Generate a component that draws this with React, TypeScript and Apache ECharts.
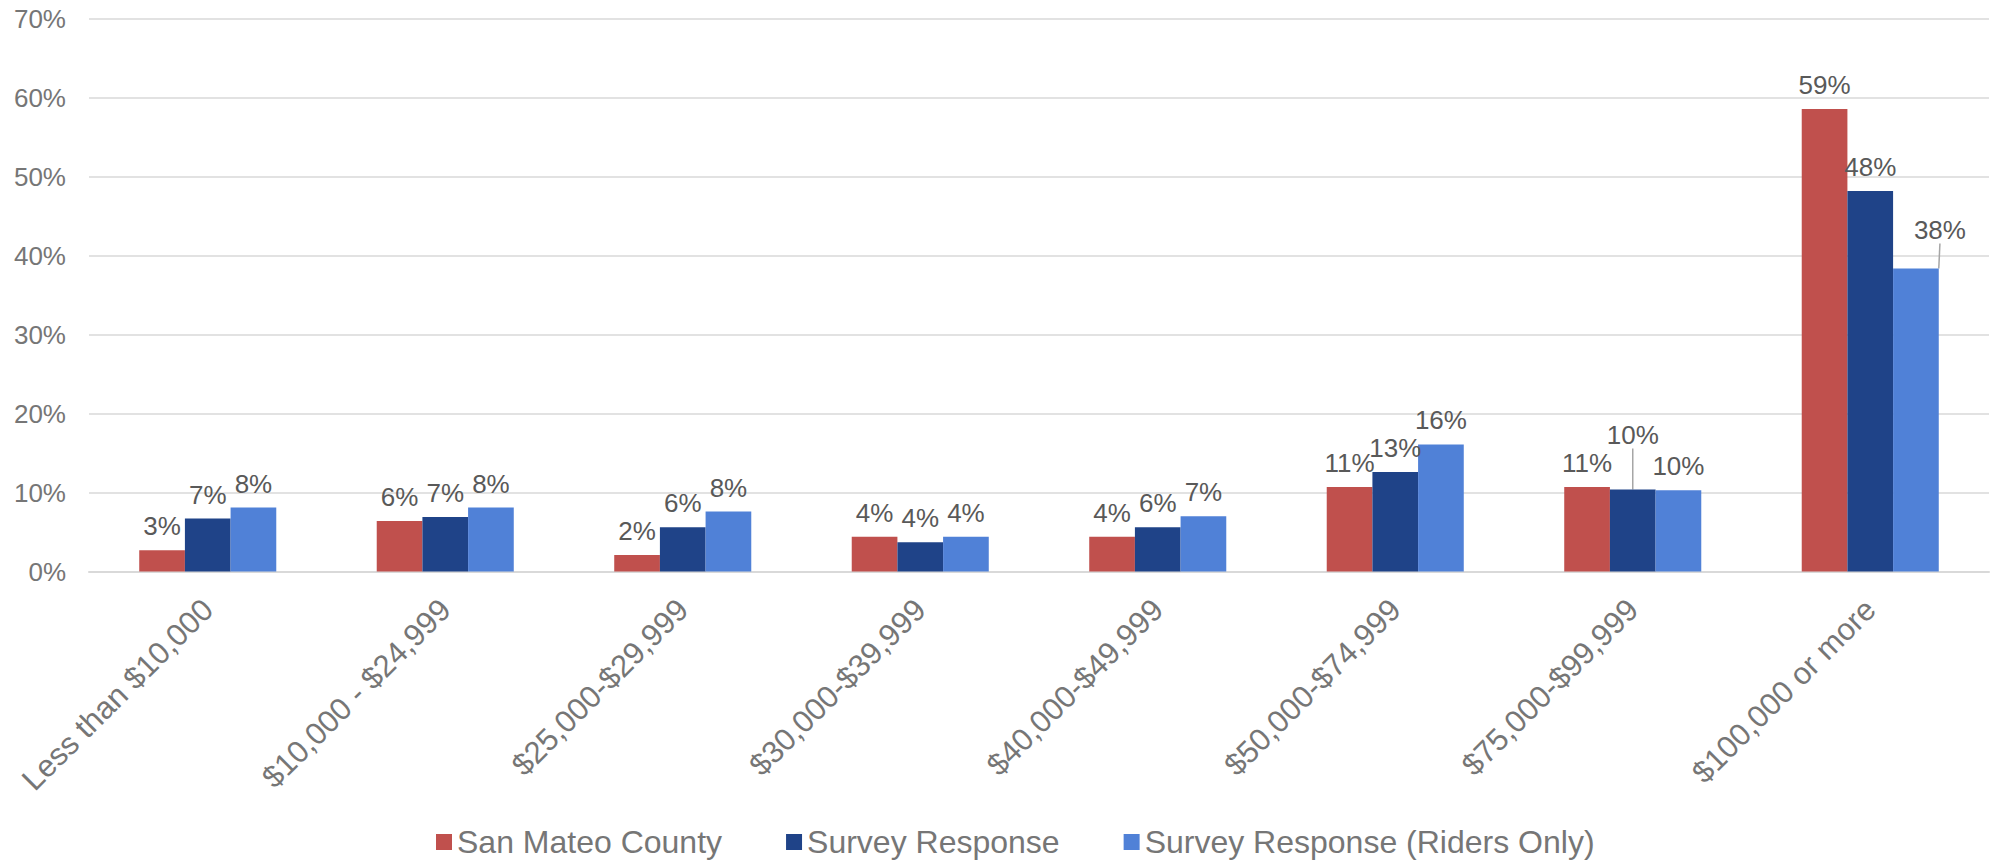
import React, { useEffect, useRef } from "react";
import * as echarts from "echarts";

// Household income brackets on the category axis
const categories = [
  "Less than $10,000",
  "$10,000 - $24,999",
  "$25,000-$29,999",
  "$30,000-$39,999",
  "$40,000-$49,999",
  "$50,000-$74,999",
  "$75,000-$99,999",
  "$100,000 or more",
];

const seriesNames = ["San Mateo County", "Survey Response", "Survey Response (Riders Only)"];

// Share of households per bracket, in percent
const sanMateoCounty = [2.7, 6.4, 2.1, 4.4, 4.4, 10.7, 10.7, 58.6];
const surveyResponse = [6.7, 6.9, 5.6, 3.7, 5.6, 12.6, 10.4, 48.2];
const ridersOnly = [8.1, 8.1, 7.6, 4.4, 7.0, 16.1, 10.3, 38.4];

// Value axis range and step (percent)
const yMin = 0;
const yMax = 70;
const yStep = 10;

const colors = ["#C0504D", "#1F4388", "#5081D7"];
const FONT = "'Liberation Sans', Arial, sans-serif";

// Data labels nudged away from crowded spots, keyed by "series-index"
const labelNudges: Record<string, [number, number]> = {
  "1-6": [0, -30],
  "2-7": [24, -14],
};

export default function App() {
  const ref = useRef<HTMLDivElement>(null);

  useEffect(() => {
    if (!ref.current) return;
    const chart = echarts.init(ref.current, undefined, { renderer: "svg" });

    const allValues = [sanMateoCounty, surveyResponse, ridersOnly];

    const series = allValues.map((values, si) => ({
      name: seriesNames[si],
      type: "bar" as const,
      barGap: "0%",
      barCategoryGap: "42.3%",
      itemStyle: { color: colors[si] },
      data: values.map((v, di) =>
        labelNudges[`${si}-${di}`]
          ? { value: v, labelLine: { show: true } }
          : { value: v }
      ),
      label: {
        show: true,
        position: "top" as const,
        distance: 11,
        fontFamily: FONT,
        fontSize: 26,
        color: "#595959",
        formatter: (p: any) => `${Math.round(p.value)}%`,
      },
      labelLine: {
        show: false,
        lineStyle: { color: "#A6A6A6", width: 1.5 },
      },
      labelLayout: (p: any) => {
        const n = labelNudges[`${si}-${p.dataIndex}`];
        return n ? { dx: n[0], dy: n[1] } : {};
      },
    }));

    chart.setOption({
      animation: false,
      backgroundColor: "#FFFFFF",
      grid: { left: 89, right: 10, top: 19, height: 552.5, containLabel: false },
      legend: {
        data: seriesNames,
        left: 431,
        top: 820,
        icon: "rect",
        itemWidth: 16,
        itemHeight: 16,
        itemGap: 64,
        textStyle: { fontFamily: FONT, fontSize: 32, color: "#767676", lineHeight: 34 },
      },
      xAxis: {
        type: "category",
        data: categories,
        axisLine: { show: true, lineStyle: { color: "#D9D9D9", width: 2 } },
        axisTick: { show: false },
        axisLabel: {
          interval: 0,
          rotate: 45,
          margin: 33,
          fontFamily: FONT,
          fontSize: 31,
          color: "#767676",
        },
      },
      yAxis: {
        type: "value",
        min: yMin,
        max: yMax,
        interval: yStep,
        axisLine: { show: false },
        axisTick: { show: false },
        splitLine: { lineStyle: { color: "#D9D9D9", width: 1.5 } },
        axisLabel: {
          margin: 23,
          fontFamily: FONT,
          fontSize: 26,
          color: "#767676",
          formatter: "{value}%",
        },
      },
      series,
    });

    return () => chart.dispose();
  }, []);

  return (
    <div
      ref={ref}
      style={{ position: "fixed", left: 0, top: 0, width: 1999, height: 862, background: "#fff" }}
    />
  );
}
